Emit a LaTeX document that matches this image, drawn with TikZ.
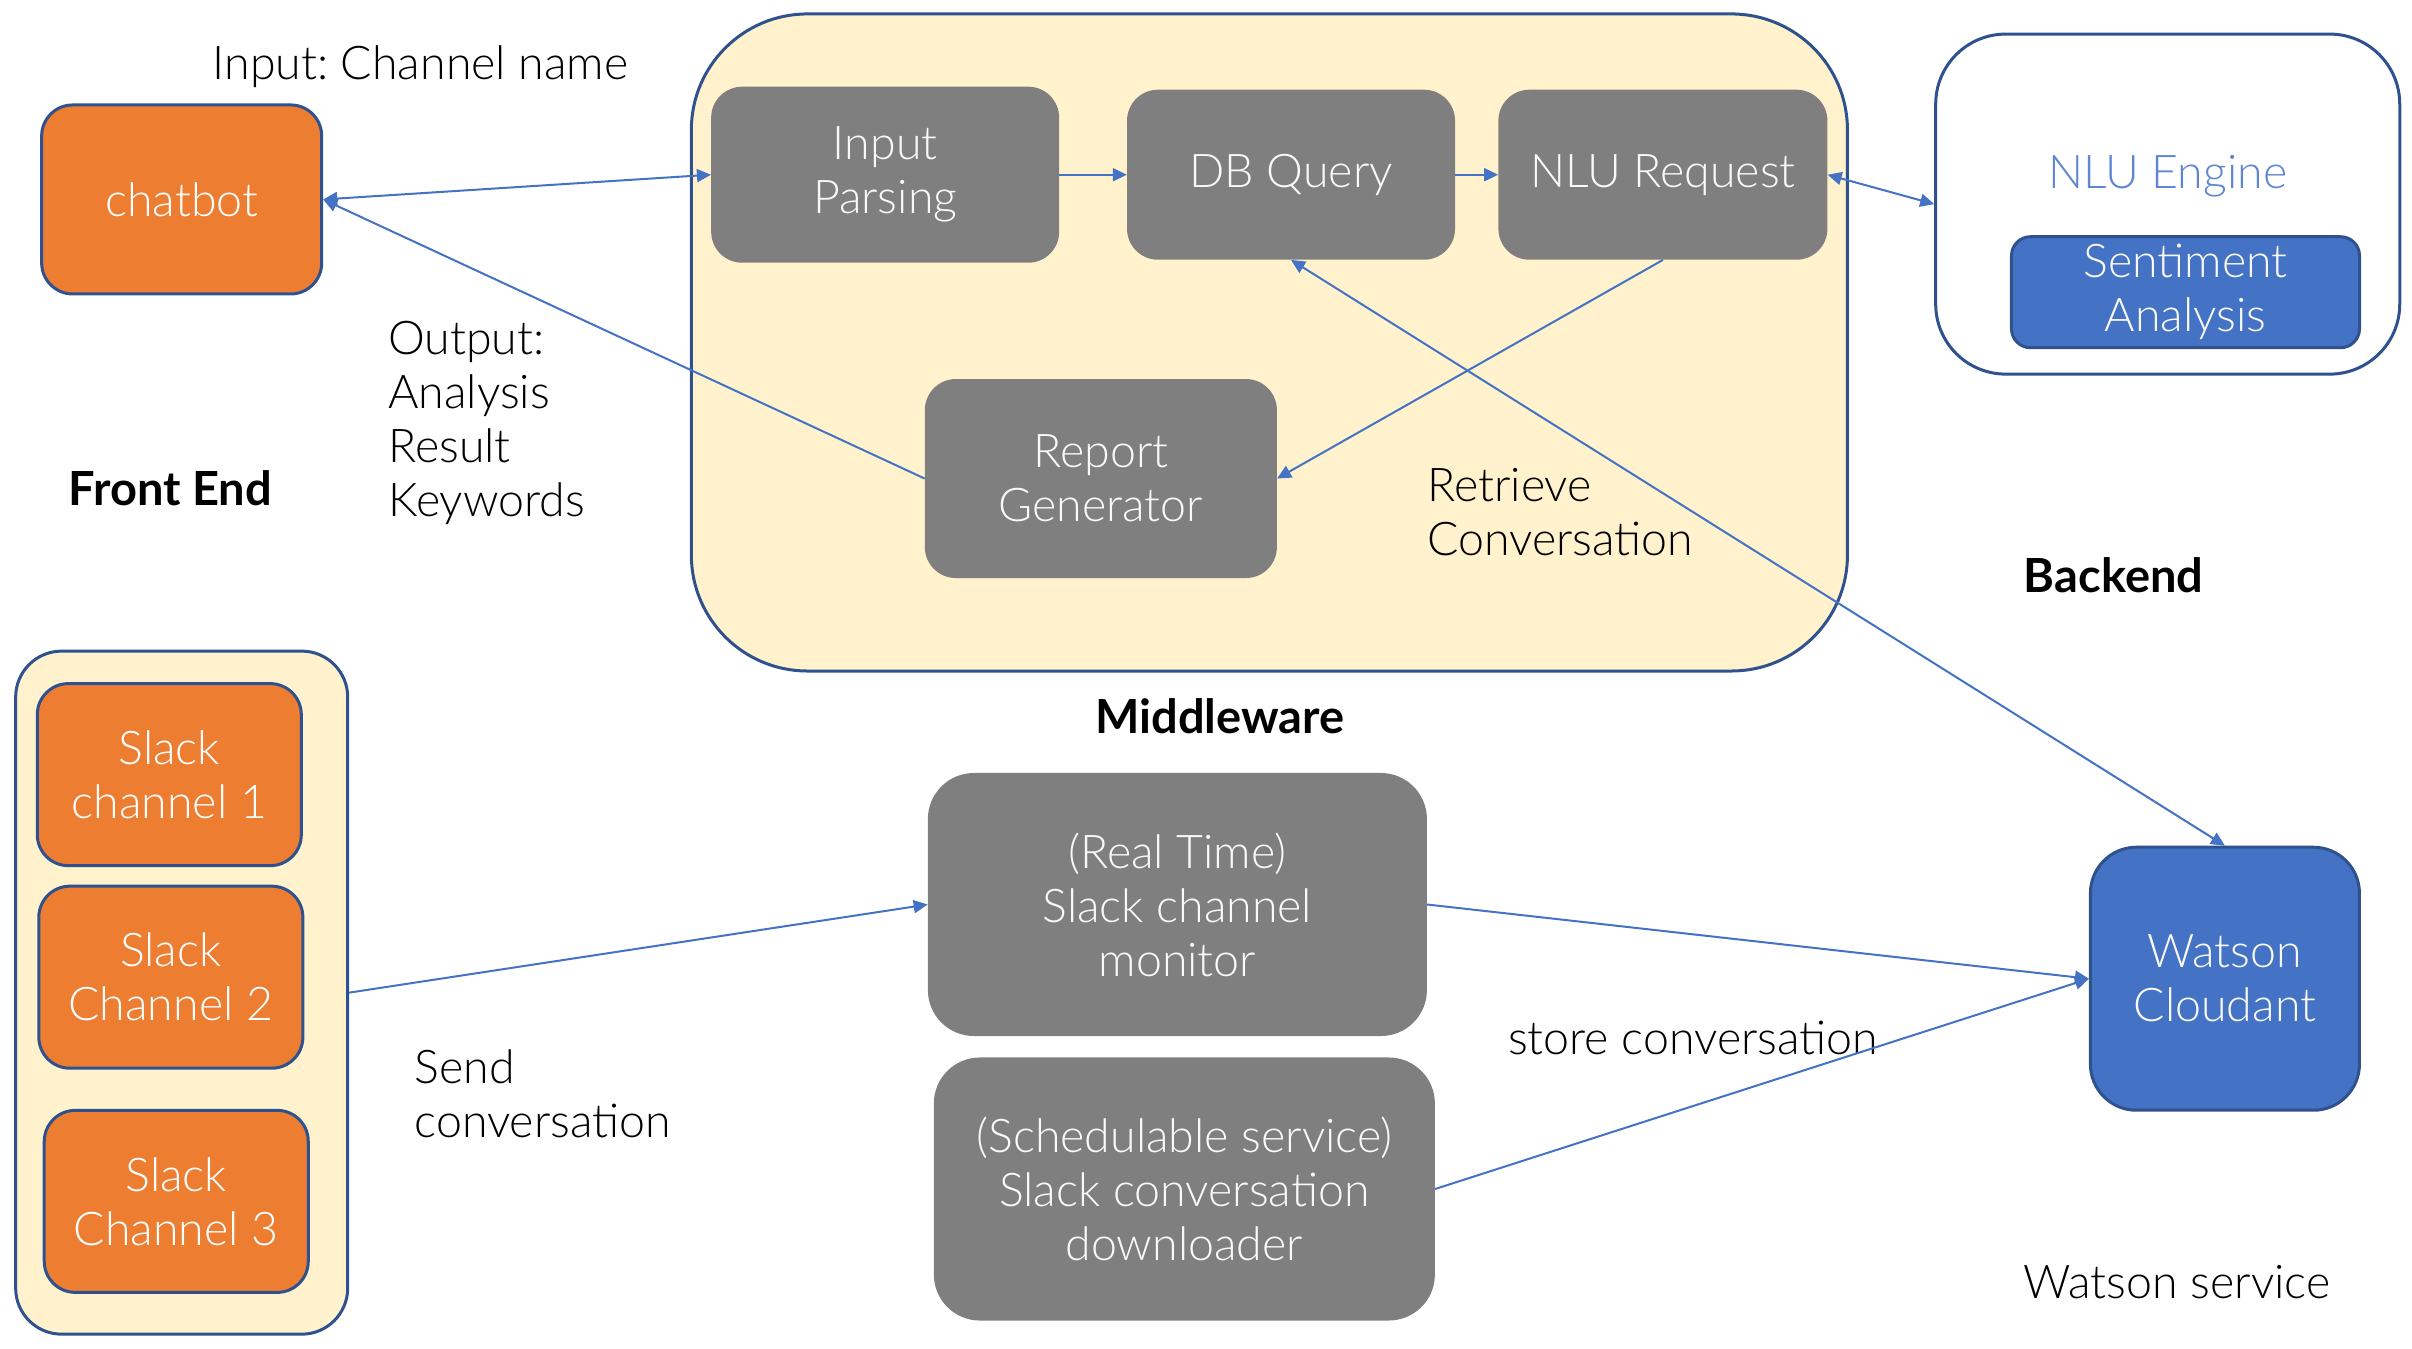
\documentclass[tikz,border=0pt]{standalone}
\usepackage{fontspec}
\setmainfont{Lato}[UprightFont=* Light, BoldFont=* Bold]
\frenchspacing
\usetikzlibrary{arrows.meta}
\definecolor{orangefill}{HTML}{ED7D31}
\definecolor{edgeblue}{HTML}{2F528F}
\definecolor{boxgray}{HTML}{7F7F7F}
\definecolor{cream}{HTML}{FFF2CC}
\definecolor{watsonblue}{HTML}{4472C4}
\definecolor{enginetext}{HTML}{5F86D2}
\tikzset{
  txt/.style={font=\fontsize{46.5}{54}\selectfont, align=center, inner sep=0pt},
  lbl/.style={font=\fontsize{47}{54}\selectfont\bfseries, inner sep=0pt},
  orangebox/.style={txt, draw=edgeblue, fill=orangefill, line width=3pt, rounded corners=31pt, text=white},
  graybox/.style={txt, fill=boxgray, rounded corners=31pt, text=white!95!gray},
  bluebox/.style={txt, draw=edgeblue, fill=watsonblue, line width=3pt, text=white!95!gray},
  group/.style={draw=edgeblue, line width=3pt},
  link/.style={draw=watsonblue, line width=2pt, -{Triangle[length=14pt,width=13pt]}},
  twoway/.style={link, {Triangle[length=14pt,width=13pt]}-{Triangle[length=14pt,width=13pt]}}
}
\begin{document}
\begin{tikzpicture}[x=1.546pt,y=-1.546pt]
\useasboundingbox (0,0) rectangle (1560,872);

% containers
\node[group, fill=cream, rounded corners=116pt, minimum width=1156pt, minimum height=657pt] (mw) at (821,221.5) {};
\node[group, fill=white, rounded corners=70pt, minimum width=464pt, minimum height=340pt] (eng) at (1402,132) {};
\node[group, fill=cream, rounded corners=46pt, minimum width=332pt, minimum height=683pt] (sl) at (117.5,642) {};

% front end
\node[orangebox, minimum width=280pt, minimum height=189pt] (chatbot) at (117.5,129) {chatbot};
\node[orangebox, minimum width=264pt, minimum height=182pt] (s1) at (109.5,501) {Slack\\channel 1};
\node[orangebox, minimum width=264pt, minimum height=182pt] (s2) at (110.5,632) {Slack\\Channel 2};
\node[orangebox, minimum width=264pt, minimum height=182pt] (s3) at (114,777) {Slack\\Channel 3};

% middleware
\node[graybox, minimum width=348pt, minimum height=176pt] (inp) at (572.5,113) {Input\\Parsing};
\node[graybox, minimum width=328pt, minimum height=170pt] (db) at (835,113) {DB Query};
\node[graybox, minimum width=329pt, minimum height=170pt] (nlu) at (1075.5,113) {NLU Request};
\node[graybox, minimum width=352pt, minimum height=199pt] (rep) at (712,309.5) {Report\\Generator};
\node[graybox, rounded corners=46pt, minimum width=499pt, minimum height=263pt] (rt) at (761.5,585) {(Real Time)\\Slack channel\\monitor};
\node[graybox, rounded corners=46pt, minimum width=501pt, minimum height=263pt] (dl) at (766,769) {(Schedulable service)\\Slack conversation\\downloader};

% backend
\node[txt, text=enginetext] (engtxt) at (1402,114) {NLU Engine};
\node[bluebox, rounded corners=19pt, minimum width=348pt, minimum height=111pt] (sa) at (1413.5,189) {Sentiment\\Analysis};
\node[bluebox, rounded corners=46pt, minimum width=269pt, minimum height=263pt] (wc) at (1439,633) {Watson\\Cloudant};

% labels
\node[txt] (inlbl) at (272,43) {Input: Channel name};
\node[txt, align=left, anchor=west] (outlbl) at (251,273.5) {Output:\\Analysis\\Result\\Keywords};
\node[txt, align=left, anchor=west] (retlbl) at (923,331.5) {Retrieve\\Conversation};
\node[txt, align=left, anchor=west] (sendlbl) at (268,707.5) {Send\\conversation};
\node[txt] (storelbl) at (1095,671) {store conversation};
\node[txt] (wslbl) at (1408,829) {Watson service};
\node[lbl] (fe) at (110,316) {Front End};
\node[lbl] (mwlbl) at (789,463) {Middleware};
\node[lbl] (be) at (1367,372) {Backend};

% connectors
\draw[twoway] (chatbot.east) -- (inp.west);
\draw[link] (rep.west) -- (chatbot.east);
\draw[link] (inp.east) -- (db.west);
\draw[link] (db.east) -- (nlu.west);
\draw[twoway] (nlu.east) -- (eng.west);
\draw[link] (nlu.south) -- (rep.east);
\draw[twoway] (db.south) -- (wc.north);
\draw[link] (sl.east) -- (rt.west);
\draw[link] (rt.east) -- (wc.west);
\draw[link] (dl.east) -- (wc.west);
\end{tikzpicture}
\end{document}
